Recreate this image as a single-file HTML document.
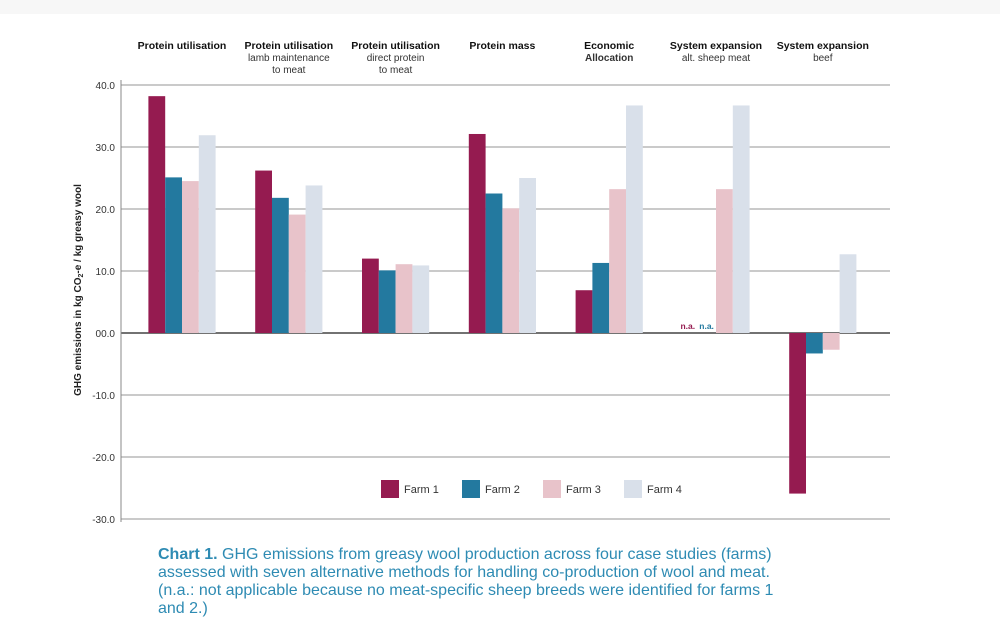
<!DOCTYPE html>
<html><head><meta charset="utf-8"><style>
body{margin:0;background:#fff;width:1000px;height:642px;overflow:hidden;font-family:"Liberation Sans",sans-serif}
#cap{position:absolute;left:158px;top:546px;white-space:nowrap;font-size:16px;line-height:18px;color:#2e8bb3}
</style></head><body>
<div style="position:absolute;left:0;top:0;width:1000px;height:14px;background:#f7f7f7"></div>
<svg id="chart" width="1000" height="642" style="position:absolute;left:0;top:0"></svg>
<div id="cap"><b>Chart 1.</b> GHG emissions from greasy wool production across four case studies (farms)<br>assessed with seven alternative methods for handling co-production of wool and meat.<br>(n.a.: not applicable because no meat-specific sheep breeds were identified for farms 1<br>and 2.)</div>
<script>
const categories=["Protein utilisation","Protein utilisation","Protein utilisation","Protein mass","Economic","System expansion","System expansion"];
const subtitles=[[],["lamb maintenance","to meat"],["direct protein","to meat"],[],["Allocation"],["alt. sheep meat"],["beef"]];
const farm1=[38.2,26.2,12.0,32.1,6.9,null,-25.9];
const farm2=[25.1,21.8,10.1,22.5,11.3,null,-3.3];
const farm3=[24.5,19.1,11.1,20.1,23.2,23.2,-2.7];
const farm4=[31.9,23.8,10.9,25.0,36.7,36.7,12.7];
const seriesNames=["Farm 1","Farm 2","Farm 3","Farm 4"];
const ticks=[40,30,20,10,0,-10,-20,-30];
const tickLabels=["40.0","30.0","20.0","10.0","00.0","-10.0","-20.0","-30.0"];

const colors=["#951b50","#23799f","#e8c3ca","#d9e0ea"];
const series=[farm1,farm2,farm3,farm4];
const NS="http://www.w3.org/2000/svg";
const svg=document.getElementById('chart');
const y=v=>333-v*6.2;
const cx=i=>182+i*106.8;
const bw=16.8;
function mk(tag,attrs,parent){const e=document.createElementNS(NS,tag);for(const k in attrs)e.setAttribute(k,attrs[k]);(parent||svg).appendChild(e);return e;}
ticks.forEach((t,i)=>{
  const g=mk('line',{x1:121,x2:890,y1:y(t),y2:y(t),stroke:t===0?'#444':'#aaa','stroke-width':t===0?1.6:1.2});
  
  
  const tx=mk('text',{x:115,y:y(t)+4,'text-anchor':'end','font-size':10,fill:'#333'});
  tx.textContent=tickLabels[i];
  
  
});
const ax=mk('line',{x1:121,x2:121,y1:80,y2:522,stroke:'#888','stroke-width':1});


const yt=mk('text',{x:0,y:0,transform:'translate(81,290) rotate(-90)','text-anchor':'middle','font-size':10,'font-weight':'bold',fill:'#222'});
yt.innerHTML='GHG emissions in kg CO<tspan font-size="7" dy="2">2</tspan><tspan dy="-2">-e / kg greasy wool</tspan>';


categories.forEach((c,i)=>{
  const t=mk('text',{x:cx(i),y:49,'text-anchor':'middle','font-size':10.5,'font-weight':'bold',fill:'#111'});
  t.textContent=c;
  
  
  subtitles[i].forEach((s,j)=>{
    const st=mk('text',{x:cx(i),y:61+j*12,'text-anchor':'middle','font-size':10,fill:'#333','font-weight':c==="Economic"?'bold':'normal'});
    st.textContent=s;
    
    
  });
  series.forEach((s,k)=>{
    const v=s[i];
    const x=cx(i)-2*bw+k*bw;
    if(v===null){
      const na=mk('text',{x:x+bw/2+(k===0?-3:-1),y:329,'text-anchor':'middle','font-size':8.5,'font-weight':'bold',fill:colors[k]});
      na.textContent='n.a.';
      
      
      return;
    }
    const r=mk('rect',{x:x,width:bw,y:Math.min(y(v),y(0)),height:Math.abs(y(v)-y(0)),fill:colors[k]});
    
    
  });
});
seriesNames.forEach((n,k)=>{
  const x=381+k*81;
  const r=mk('rect',{x:x,y:480,width:18,height:18,fill:colors[k]});
  
  
  const t=mk('text',{x:x+23,y:493,'font-size':11,fill:'#333'});
  t.textContent=n;
  
  
});
</script>
</body></html>
